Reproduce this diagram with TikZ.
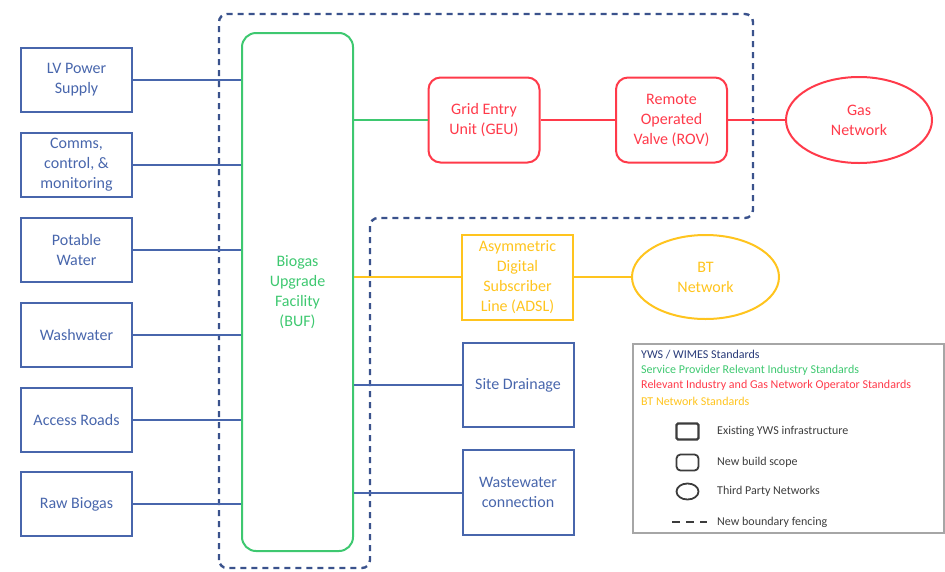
\documentclass[tikz,border=0pt]{standalone}
\usepackage{fontspec}
\setmainfont{Carlito}
\usetikzlibrary{shapes.geometric}
\definecolor{ywsblue}{RGB}{72,102,172}
\definecolor{spgreen}{RGB}{62,200,112}
\definecolor{gasred}{RGB}{255,58,74}
\definecolor{btyellow}{RGB}{255,196,30}
\definecolor{fenceblue}{RGB}{58,82,140}
\definecolor{legdark}{RGB}{40,58,120}
\definecolor{leggrey}{RGB}{60,60,60}
\begin{document}
\begin{tikzpicture}[x=1pt,y=-1pt,
  lbl/.style={font=\fontsize{16}{20}\selectfont, align=center, inner sep=0pt},
  bluebox/.style={lbl, draw=ywsblue, text=ywsblue, line width=2pt, rectangle, minimum width=111pt, minimum height=64pt},
  redbox/.style={lbl, draw=gasred, text=gasred, line width=2pt, rectangle, rounded corners=12pt, minimum width=111pt, minimum height=85pt},
  ybox/.style={lbl, draw=btyellow, text=btyellow, line width=2pt, rectangle, minimum width=111pt, minimum height=85pt},
  ell/.style={lbl, line width=2pt, ellipse, minimum width=147pt, minimum height=85pt},
  bline/.style={draw=ywsblue, line width=2pt},
  gline/.style={draw=spgreen, line width=2pt},
  rline/.style={draw=gasred, line width=2pt},
  yline/.style={draw=btyellow, line width=2pt},
  fence/.style={draw=fenceblue, line width=2.4pt, dash pattern=on 6pt off 5pt, rounded corners=8pt},
  legtxt/.style={font=\fontsize{12}{14}\selectfont, anchor=west, inner sep=0pt},
]
\useasboundingbox (0,0) rectangle (945,571);

% boundary fencing
\draw[fence] (219,568) -- (219,14) -- (753,14) -- (753,218) -- (370,218) -- (370,568) -- cycle;

% BUF
\node[lbl, draw=spgreen, text=spgreen, line width=2pt, rectangle, rounded corners=14pt,
      minimum width=111pt, minimum height=518pt] (buf) at (297.5,292) {Biogas\\Upgrade\\Facility\\(BUF)};

% left boxes
\node[bluebox] (lv)   at (76.5,80)  {LV Power\\Supply};
\node[bluebox] (comm) at (76.5,165) {Comms,\\control, \&\\monitoring};
\node[bluebox] (pot)  at (76.5,249.5) {Potable\\Water};
\node[bluebox] (wash) at (76.5,335) {Washwater};
\node[bluebox] (road) at (76.5,420) {Access Roads};
\node[bluebox] (raw)  at (76.5,504) {Raw Biogas};

\foreach \n in {lv,comm,pot,wash,road,raw}
  \draw[bline] (\n.east) -- (\n.east -| buf.west);

% gas chain
\node[redbox] (geu) at (484,120) {Grid Entry\\Unit (GEU)};
\node[redbox] (rov) at (671.5,120) {Remote\\Operated\\Valve (ROV)};
\node[ell, draw=gasred, text=gasred, minimum width=146pt, minimum height=86pt] (gas) at (859,120) {Gas\\Network};
\draw[gline] (geu.west -| buf.east) -- (geu.west);
\draw[rline] (geu.east) -- (rov.west);
\draw[rline] (rov.east) -- (gas.west);

% BT chain
\node[ybox] (adsl) at (517.5,277) {Asymmetric\\Digital\\Subscriber\\Line (ADSL)};
\node[ell, draw=btyellow, text=btyellow, minimum height=84pt] (bt) at (705.5,277) {BT\\Network};
\draw[yline] (adsl.west -| buf.east) -- (adsl.west);
\draw[yline] (adsl.east) -- (bt.west);

% right blue boxes
\node[bluebox, minimum height=84pt] (site) at (518,385) {Site Drainage};
\node[bluebox, minimum height=85pt] (wwc) at (518,492.5) {Wastewater\\connection};
\draw[bline] (site.west -| buf.east) -- (site.west);
\draw[bline] (wwc.west -| buf.east) -- (wwc.west);

% legend
\node[draw=black!35, line width=1.5pt, rectangle, minimum width=311pt, minimum height=189pt, inner sep=0pt] (legend) at (788.5,438.5) {};
\node[legtxt, text=legdark]  (l1) at (641,355) {YWS / WIMES Standards};
\node[legtxt, text=spgreen]  (l2) at (641,370) {Service Provider Relevant Industry Standards};
\node[legtxt, text=gasred]   (l3) at (641,385) {Relevant Industry and Gas Network Operator Standards};
\node[legtxt, text=btyellow] (l4) at (641,401) {BT Network Standards};

\node[draw=leggrey, line width=2.2pt, rectangle, rounded corners=1.5pt, minimum width=22pt, minimum height=16pt, inner sep=0pt] (s1) at (687.5,431.5) {};
\node[draw=leggrey, line width=1.8pt, rectangle, rounded corners=4pt, minimum width=22pt, minimum height=16pt, inner sep=0pt] (s2) at (687.5,462.5) {};
\node[draw=leggrey, line width=1.8pt, ellipse, minimum width=22pt, minimum height=16pt, inner sep=0pt] (s3) at (687.5,491.5) {};
\coordinate (d1) at (672,522);
\coordinate (d2) at (707,522);
\draw[draw=leggrey, line width=2.2pt, dash pattern=on 8pt off 6pt] (d1) -- (d2);

\node[legtxt, text=leggrey] (t1) at (717,431.5) {Existing YWS infrastructure};
\node[legtxt, text=leggrey] (t2) at (717,462.5) {New build scope};
\node[legtxt, text=leggrey] (t3) at (717,491.5) {Third Party Networks};
\node[legtxt, text=leggrey] (t4) at (717,522) {New boundary fencing};
\end{tikzpicture}
\end{document}
